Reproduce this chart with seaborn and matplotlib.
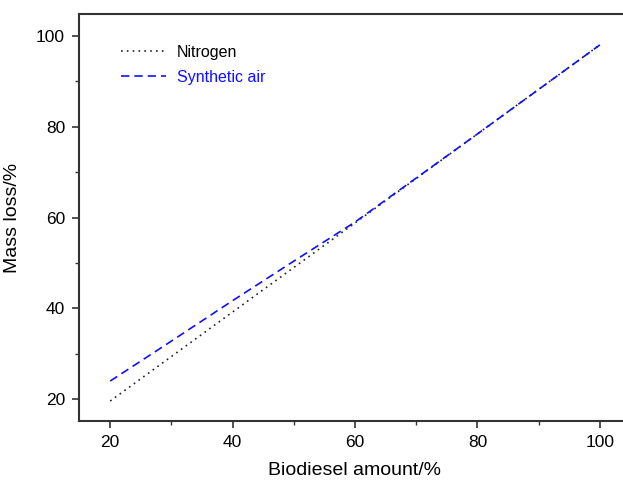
import matplotlib
matplotlib.use("Agg")
import matplotlib.pyplot as plt
import seaborn as sns
import pandas as pd
from matplotlib.ticker import MultipleLocator

biodiesel = [20, 30, 40, 50, 60, 70, 80, 90, 100]
nitrogen = [19.6, 29.4, 39.2, 49.0, 58.8, 68.6, 78.4, 88.2, 98.0]
synthetic_air = [24.0, 32.8, 41.7, 50.4, 59.0, 68.7, 78.4, 88.2, 98.0]
series_names = ["Nitrogen", "Synthetic air"]

sns.set_style("ticks")
plt.rcParams['font.family'] = ['Liberation Sans', 'DejaVu Sans']
plt.rcParams['text.color'] = 'black'
plt.rcParams['axes.labelcolor'] = 'black'
plt.rcParams['xtick.color'] = 'black'
plt.rcParams['ytick.color'] = 'black'

df = pd.DataFrame({
    "x": biodiesel * 2,
    "y": nitrogen + synthetic_air,
    "series": [series_names[0]] * len(biodiesel) + [series_names[1]] * len(biodiesel),
})

fig = plt.figure(figsize=(6.23, 4.82), dpi=100)
ax = fig.add_axes([79 / 623, 1 - 421 / 482, 1 - 79 / 623 + 0.01, (421 - 14) / 482])

sns.lineplot(data=df[df.series == "Nitrogen"], x="x", y="y", ax=ax,
             color="#222222", linestyle=(0, (1, 2.5)), linewidth=1.2, label="Nitrogen")
sns.lineplot(data=df[df.series == "Synthetic air"], x="x", y="y", ax=ax,
             color="#1010ff", linestyle=(0, (5, 3)), linewidth=1.2, label="Synthetic air")

ax.set_xlim(14.9, 104.8)
ax.set_ylim(15.2, 104.8)
ax.xaxis.set_major_locator(MultipleLocator(20))
ax.xaxis.set_minor_locator(MultipleLocator(10))
ax.yaxis.set_major_locator(MultipleLocator(20))
ax.yaxis.set_minor_locator(MultipleLocator(10))
ax.tick_params(which="major", length=5, width=1.2, color="#333333", labelsize=12.5, pad=5)
ax.tick_params(which="minor", length=3, width=1.0, color="#333333")
for s in ["left", "bottom", "top"]:
    ax.spines[s].set_visible(True)
    ax.spines[s].set_linewidth(1.5)
    ax.spines[s].set_color("#333333")
ax.spines["right"].set_visible(False)

ax.set_xlabel("Biodiesel amount/%", fontsize=14, labelpad=9)
ax.set_ylabel("Mass loss/%", fontsize=14, labelpad=11)

leg = ax.legend(loc="upper left", bbox_to_anchor=(0.05, 0.96), frameon=False,
                fontsize=11.5, handlelength=2.8, handletextpad=0.7, labelspacing=0.65)
for txt, line in zip(leg.get_texts(), leg.get_lines()):
    txt.set_color(line.get_color() if txt.get_text() == "Synthetic air" else "black")

fig.savefig("out.png", dpi=100)
